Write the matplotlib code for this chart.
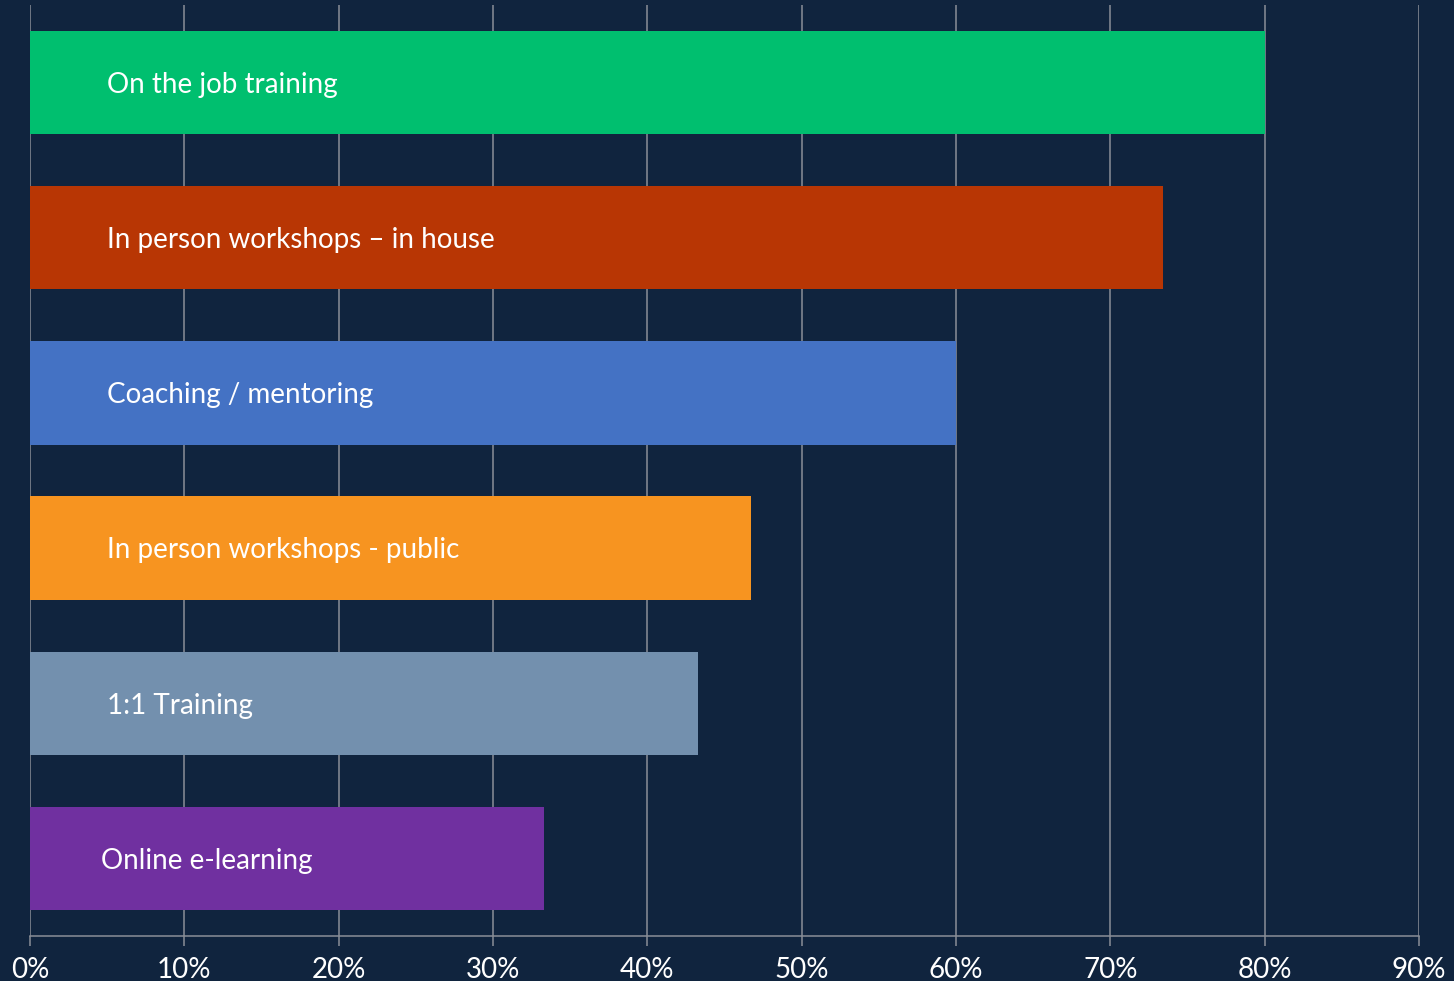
import matplotlib
matplotlib.use("Agg")
import matplotlib.pyplot as plt
from matplotlib.ticker import FuncFormatter

plt.rcParams['font.family'] = ['Lato', 'DejaVu Sans']

# data (top to bottom)
categories = ['On the job training', 'In person workshops – in house', 'Coaching / mentoring',
              'In person workshops - public', '1:1 Training', 'Online e-learning']
values = [80.0, 73.4, 60.0, 46.7, 43.3, 33.3]
colors = ['#00BF6F', '#B83604', '#4472C4', '#F79420', '#7390AE', '#7030A0']
label_x = [5, 5, 5, 5, 5, 4.6]

bg = '#10243E'
fig = plt.figure(figsize=(14.54, 9.81), dpi=100, facecolor=bg)
ax = fig.add_axes([30 / 1454, 45 / 981, 1389 / 1454, 931 / 981])
ax.set_facecolor(bg)

ypos = list(range(len(categories)))[::-1]
ax.barh(ypos, values, height=0.665, color=colors, zorder=3)
for y, lab, lx in zip(ypos, categories, label_x):
    ax.text(lx, y - 0.015, lab, color='white', fontsize=20, va='center', ha='left', zorder=4)

ax.set_xlim(0, 90)
ax.set_ylim(-0.5, 5.5)
ax.set_xticks(range(0, 91, 10))
ax.xaxis.set_major_formatter(FuncFormatter(lambda v, p: f'{int(v)}%'))
ax.set_yticks([])
ax.grid(axis='x', color='#8A8F98', linewidth=1.1, zorder=1)
for s in ['top', 'right', 'left']:
    ax.spines[s].set_visible(False)
ax.spines['bottom'].set_color('#8A8F98')
ax.spines['bottom'].set_linewidth(1.1)
ax.tick_params(axis='x', colors='#8A8F98', length=7, width=1.1, labelsize=20,
               labelcolor='white', pad=8)

fig.savefig('out.png', dpi=100, facecolor=bg)
